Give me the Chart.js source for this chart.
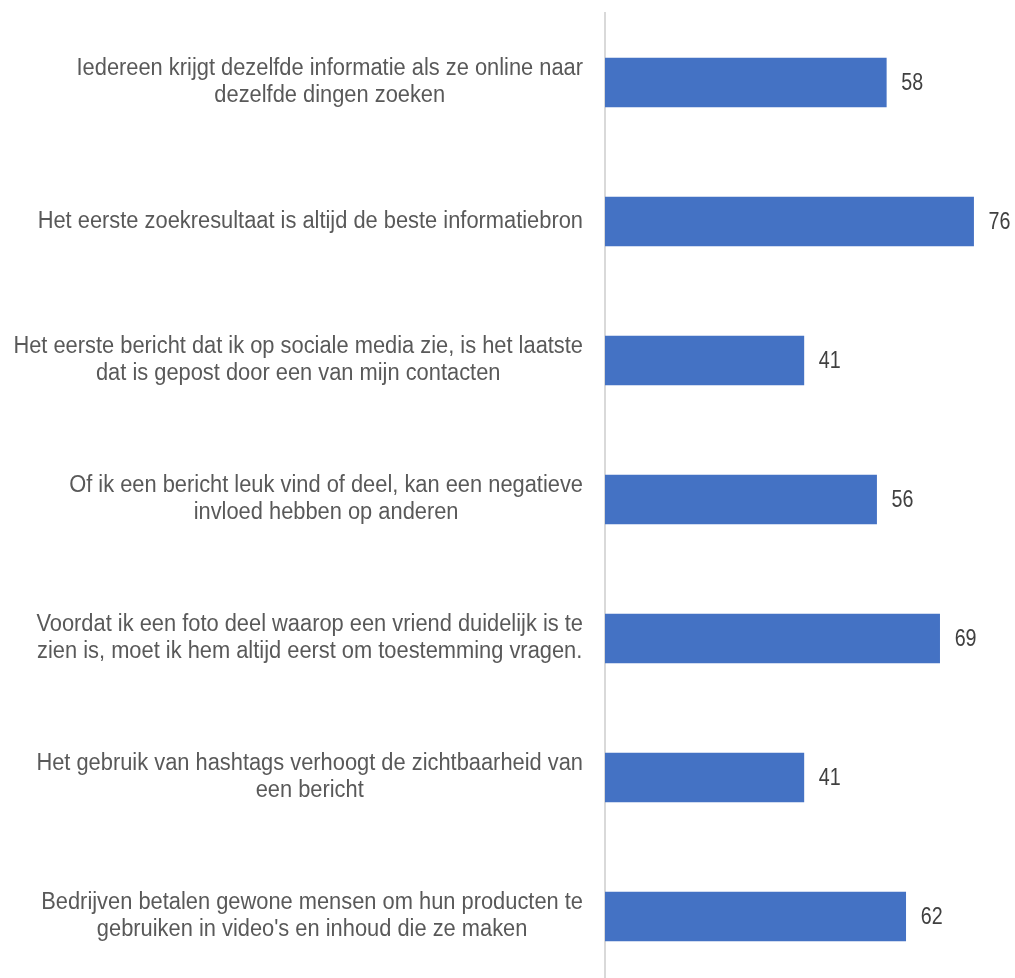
<!DOCTYPE html>
<html>
<head>
<meta charset="utf-8">
<script src="https://cdn.jsdelivr.net/npm/chart.js@4/dist/chart.umd.min.js"></script>
<style>
  html, body { margin: 0; padding: 0; background: #fff; overflow: hidden; }
  #wrap { width: 1015px; height: 986px; }
</style>
</head>
<body>
<div id="wrap"><canvas id="stellingen" width="1015" height="986"></canvas></div>
<script>
// Stellingen (elke stelling is een array met de regels zoals ze getoond worden)
const stellingen = [
  ["Iedereen krijgt dezelfde informatie als ze online naar", "dezelfde dingen zoeken"],
  ["Het eerste zoekresultaat is altijd de beste informatiebron"],
  ["Het eerste bericht dat ik op sociale media zie, is het laatste", "dat is gepost door een van mijn contacten"],
  ["Of ik een bericht leuk vind of deel, kan een negatieve", "invloed hebben op anderen"],
  ["Voordat ik een foto deel waarop een vriend duidelijk is te", "zien is, moet ik hem altijd eerst om toestemming vragen."],
  ["Het gebruik van hashtags verhoogt de zichtbaarheid van", "een bericht"],
  ["Bedrijven betalen gewone mensen om hun producten te", "gebruiken in video's en inhoud die ze maken"]
];
const percentages = [58, 76, 41, 56, 69, 41, 62];

const FONT = "'Liberation Sans Narrow', 'Arial Narrow', 'Liberation Sans', Arial, sans-serif";
const LABEL_RIGHT = 583;
const LINE_H = 27;
// tekst horizontaal iets samendrukken (smal lettertype)
const LABEL_SX = 0.95;
const VALUE_SX = 0.82;

// labels links van de as: regels gecentreerd t.o.v. de langste regel, blok rechts uitgelijnd
const stellingLabels = {
  id: 'stellingLabels',
  afterDraw(chart) {
    const ctx = chart.ctx;
    const y = chart.scales.y;
    ctx.save();
    ctx.font = '23px ' + FONT;
    ctx.fillStyle = '#595959';
    ctx.textAlign = 'center';
    ctx.textBaseline = 'middle';
    stellingen.forEach((lines, i) => {
      const cy = y.getPixelForTick(i);
      const maxW = Math.max(...lines.map(l => ctx.measureText(l).width)) * LABEL_SX;
      const cx = LABEL_RIGHT - maxW / 2;
      const top = cy - (lines.length - 1) * LINE_H / 2;
      lines.forEach((l, j) => {
        ctx.save();
        ctx.translate(cx, top + j * LINE_H);
        ctx.scale(LABEL_SX, 1);
        ctx.fillText(l, 0, 0);
        ctx.restore();
      });
    });
    ctx.restore();
  }
};

// waarde rechts naast elke balk
const waardeLabels = {
  id: 'waardeLabels',
  afterDatasetsDraw(chart) {
    const ctx = chart.ctx;
    const meta = chart.getDatasetMeta(0);
    ctx.save();
    ctx.font = '24px ' + FONT;
    ctx.fillStyle = '#404040';
    ctx.textAlign = 'left';
    ctx.textBaseline = 'middle';
    meta.data.forEach((bar, i) => {
      ctx.save();
      ctx.translate(bar.x + 15, bar.y + 1);
      ctx.scale(VALUE_SX, 1);
      ctx.fillText(String(percentages[i]), 0, 0);
      ctx.restore();
    });
    ctx.restore();
  }
};

new Chart(document.getElementById('stellingen'), {
  type: 'bar',
  data: {
    labels: stellingen,
    datasets: [{
      data: percentages,
      backgroundColor: '#4472c4',
      borderWidth: 0,
      barThickness: 49
    }]
  },
  options: {
    indexAxis: 'y',
    responsive: false,
    animation: false,
    layout: { padding: { top: 13, right: 22, bottom: 0, left: 0 } },
    plugins: {
      legend: { display: false },
      tooltip: { enabled: false }
    },
    scales: {
      x: {
        min: 0,
        max: 80,
        display: false
      },
      y: {
        grid: { display: false, drawTicks: false },
        border: { display: true, color: '#d9d9d9', width: 2 },
        ticks: { display: false },
        afterFit(scale) { scale.width = 605; }
      }
    }
  },
  plugins: [stellingLabels, waardeLabels]
});
</script>
</body>
</html>
